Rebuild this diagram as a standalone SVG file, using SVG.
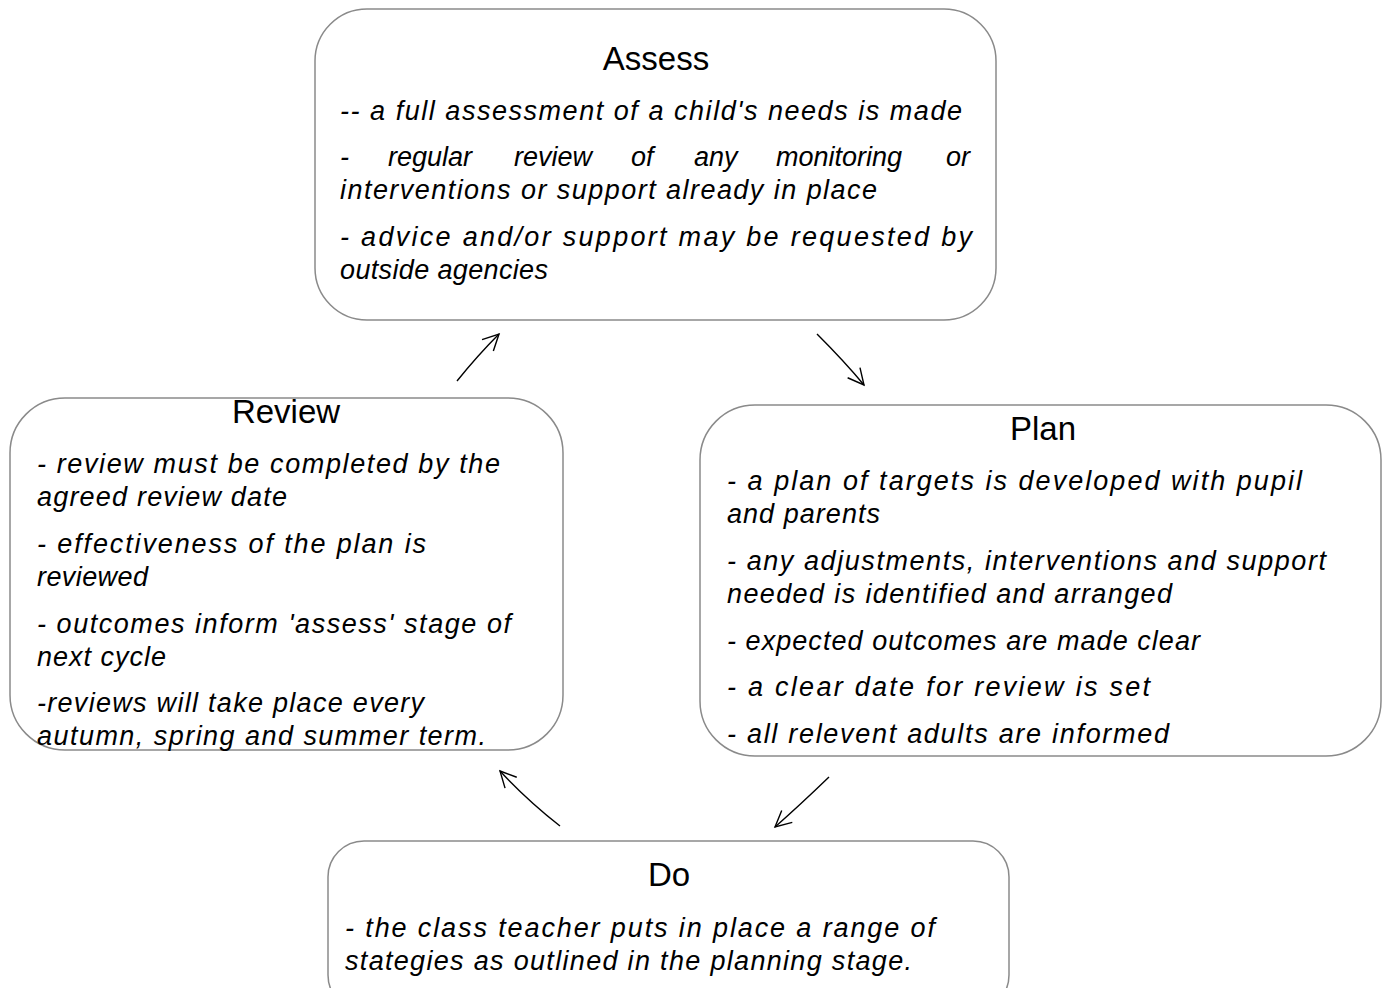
<svg xmlns="http://www.w3.org/2000/svg" width="1387" height="988" viewBox="0 0 1387 988">
<style>
.box{fill:#fff;stroke:#8a8a8a;stroke-width:1.5}
.t{font-family:"Liberation Sans",Arial,sans-serif;font-size:33px;fill:#000;text-anchor:middle}
.b{font-family:"Liberation Sans",Arial,sans-serif;font-style:italic;font-size:27px;fill:#000}
.c{fill:none;stroke:#000;stroke-width:1.4}
</style>
<defs>
<marker id="ah" viewBox="0 0 20 20" refX="18" refY="10" markerWidth="20" markerHeight="20" markerUnits="userSpaceOnUse" orient="auto">
<path d="M2 2 L18 10 L2 18" fill="none" stroke="#000" stroke-width="1.4"/>
</marker>
</defs>
<rect width="1387" height="988" fill="#fff"/>
<g id="assess">
<rect class="box" x="315" y="9" width="681" height="311" rx="52"/>
<text class="t" x="656" y="70">Assess</text>
<text class="b" x="340" y="120" textLength="622" lengthAdjust="spacing">-- a full assessment of a child's needs is made</text>
<text class="b" y="166"><tspan x="340">-</tspan><tspan x="388">regular</tspan><tspan x="514">review</tspan><tspan x="631">of</tspan><tspan x="694">any</tspan><tspan x="776">monitoring</tspan><tspan x="946">or</tspan></text>
<text class="b" x="340" y="199" textLength="537" lengthAdjust="spacing">interventions or support already in place</text>
<text class="b" x="340" y="246" textLength="632" lengthAdjust="spacing">- advice and/or support may be requested by</text>
<text class="b" x="340" y="279" textLength="208" lengthAdjust="spacing">outside agencies</text>
</g>
<g id="review">
<rect class="box" x="10" y="398" width="553" height="352" rx="55"/>
<text class="t" x="286" y="423">Review</text>
<text class="b" x="37" y="473" textLength="463" lengthAdjust="spacing">- review must be completed by the</text>
<text class="b" x="37" y="506" textLength="250" lengthAdjust="spacing">agreed review date</text>
<text class="b" x="37" y="553" textLength="389" lengthAdjust="spacing">- effectiveness of the plan is</text>
<text class="b" x="37" y="586" textLength="111" lengthAdjust="spacing">reviewed</text>
<text class="b" x="37" y="633" textLength="474" lengthAdjust="spacing">- outcomes inform 'assess' stage of</text>
<text class="b" x="37" y="666" textLength="129" lengthAdjust="spacing">next cycle</text>
<text class="b" x="37" y="712" textLength="387" lengthAdjust="spacing">-reviews will take place every</text>
<text class="b" x="37" y="745" textLength="449" lengthAdjust="spacing">autumn, spring and summer term.</text>
</g>
<g id="plan">
<rect class="box" x="700" y="405" width="681" height="351" rx="55"/>
<text class="t" x="1043" y="440">Plan</text>
<text class="b" x="727" y="490" textLength="575" lengthAdjust="spacing">- a plan of targets is developed with pupil</text>
<text class="b" x="727" y="523" textLength="153" lengthAdjust="spacing">and parents</text>
<text class="b" x="727" y="570" textLength="599" lengthAdjust="spacing">- any adjustments, interventions and support</text>
<text class="b" x="727" y="603" textLength="445" lengthAdjust="spacing">needed is identified and arranged</text>
<text class="b" x="727" y="650" textLength="473" lengthAdjust="spacing">- expected outcomes are made clear</text>
<text class="b" x="727" y="696" textLength="423" lengthAdjust="spacing">- a clear date for review is set</text>
<text class="b" x="727" y="743" textLength="442" lengthAdjust="spacing">- all relevent adults are informed</text>
</g>
<g id="do">
<rect class="box" x="328" y="841" width="681" height="170" rx="36"/>
<text class="t" x="669" y="886">Do</text>
<text class="b" x="345" y="937" textLength="590" lengthAdjust="spacing">- the class teacher puts in place a range of</text>
<text class="b" x="345" y="970" textLength="567" lengthAdjust="spacing">stategies as outlined in the planning stage.</text>
</g>
<g id="connectors">
<path class="c" d="M457 381 Q478 355 499 334" marker-end="url(#ah)"/>
<path class="c" d="M817 334 Q845 362 864 385" marker-end="url(#ah)"/>
<path class="c" d="M829 777 Q800 805 775 827" marker-end="url(#ah)"/>
<path class="c" d="M560 826 Q527 800 500 771" marker-end="url(#ah)"/>
</g>
</svg>
